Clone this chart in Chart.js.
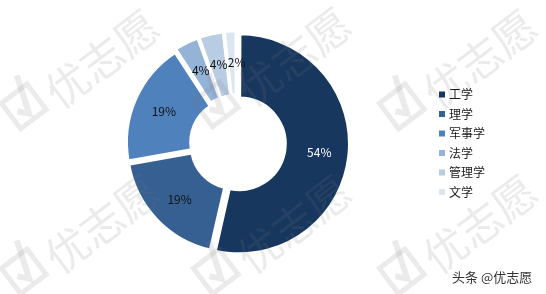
<!DOCTYPE html>
<html>
<head>
<meta charset="utf-8">
<script src="https://cdn.jsdelivr.net/npm/chart.js@4.4.0/dist/chart.umd.min.js"></script>
<style>
html,body{margin:0;padding:0;background:#fff;}
#wrap{width:546px;height:294px;position:relative;}
</style>
</head>
<body>
<div id="wrap"><canvas id="myChart" width="546" height="294"></canvas></div>
<script>
// data
var categories = ['工学', '理学', '军事学', '法学', '管理学', '文学'];
var shares = [53.6, 18.6, 18.6, 3.7, 3.7, 1.8];
var colors = ['#17375E', '#366092', '#4F81BD', '#95B3D7', '#B8CCE4', '#DCE6F1'];
var labelColors = ['#ffffff', '#111111', '#111111', '#111111', '#111111', '#111111'];
var watermarkText = '优志愿';
var creditText = '头条 @优志愿';

var FONT = '"Noto Sans CJK SC", "Noto Sans", sans-serif';

var total = 0;
for (var i = 0; i < shares.length; i++) total += shares[i];
var pctLabels = [];
for (var i = 0; i < shares.length; i++) pctLabels.push(Math.round(shares[i] / total * 100) + '%');

function drawWatermarks(chart) {
  var ctx = chart.ctx;
  var spots = [[80, 75], [272, 73], [458, 75], [80, 240], [272, 240], [458, 240]];
  var ang = -37 * Math.PI / 180;
  ctx.save();
  ctx.fillStyle = 'rgba(120,120,120,0.15)';
  ctx.strokeStyle = 'rgba(120,120,120,0.15)';
  for (var k = 0; k < spots.length; k++) {
    var sx = spots[k][0], sy = spots[k][1];
    // check box
    ctx.save();
    ctx.translate(sx - 56, sy + 30);
    ctx.rotate(ang);
    ctx.lineWidth = 5;
    ctx.strokeRect(-17, -15, 32, 32);
    ctx.beginPath();
    ctx.moveTo(-9, 1);
    ctx.lineTo(-1, 10);
    ctx.lineTo(12, -28);
    ctx.lineWidth = 6;
    ctx.stroke();
    ctx.restore();
    // text
    ctx.save();
    ctx.translate(sx + 22, sy - 16);
    ctx.rotate(ang);
    ctx.font = '43px ' + FONT;
    ctx.textAlign = 'center';
    ctx.textBaseline = 'middle';
    ctx.fillText(watermarkText, 0, 0);
    ctx.restore();
  }
  ctx.restore();
}

var labelPlugin = {
  id: 'sliceLabels',
  afterDatasetsDraw: function(chart) {
    var ctx = chart.ctx;
    var meta = chart.getDatasetMeta(0);
    drawWatermarks(chart);
    ctx.save();
    ctx.font = '12px ' + FONT;
    ctx.textAlign = 'center';
    ctx.textBaseline = 'middle';
    var pos = [];
    for (var j = 0; j < meta.data.length; j++) {
      var p = meta.data[j].getProps(['x', 'y', 'startAngle', 'endAngle', 'innerRadius', 'outerRadius'], true);
      var mid = (p.startAngle + p.endAngle) / 2;
      var r = p.innerRadius + (p.outerRadius - p.innerRadius) * 0.6;
      pos.push({ x: p.x + Math.cos(mid) * r, y: p.y + Math.sin(mid) * r });
    }
    // keep the little labels at the top from running into each other
    for (var pass = 0; pass < 4; pass++) {
      for (var j = 4; j < pos.length; j++) {
        var a = pos[j - 1], b = pos[j];
        var gap = b.x - a.x;
        if (Math.abs(b.y - a.y) < 14 && gap < 18) {
          a.x -= (18 - gap) / 2;
          b.x += (18 - gap) / 2;
        }
      }
    }
    for (var j = 0; j < pos.length; j++) {
      ctx.fillStyle = labelColors[j];
      ctx.fillText(pctLabels[j], pos[j].x + 2, pos[j].y);
    }
    // legend
    ctx.textAlign = 'left';
    for (var j = 0; j < categories.length; j++) {
      var y = 94.5 + j * 19.5;
      ctx.fillStyle = colors[j];
      ctx.fillRect(439, y - 3, 6, 6);
      ctx.fillStyle = '#1a1a1a';
      ctx.fillText(categories[j], 449, y);
    }
    // credit
    ctx.font = '13px ' + FONT;
    ctx.fillStyle = '#333';
    ctx.fillText(creditText, 452, 277);
    ctx.restore();
  }
};

var canvas = document.getElementById('myChart');
var ctx = canvas.getContext('2d');
var chart = new Chart(ctx, {
  type: 'doughnut',
  data: {
    labels: categories,
    datasets: [{
      data: shares,
      backgroundColor: colors,
      borderColor: '#ffffff',
      borderWidth: 3,
      offset: 12,
      hoverOffset: 0
    }]
  },
  options: {
    responsive: false,
    animation: false,
    cutout: '40%',
    layout: {
      padding: { left: 122, right: 195, top: 29, bottom: 36 }
    },
    plugins: {
      legend: { display: false },
      tooltip: { enabled: false }
    }
  },
  plugins: [labelPlugin]
});
</script>
</body>
</html>
